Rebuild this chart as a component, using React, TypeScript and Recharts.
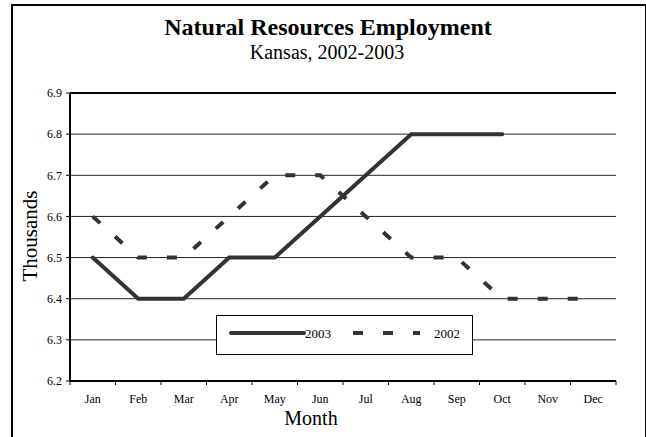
import React from 'react';
import { LineChart, Line, XAxis, YAxis, CartesianGrid, ReferenceLine } from 'recharts';

const months = ['Jan', 'Feb', 'Mar', 'Apr', 'May', 'Jun', 'Jul', 'Aug', 'Sep', 'Oct', 'Nov', 'Dec'];
const values2003: (number | null)[] = [6.5, 6.4, 6.4, 6.5, 6.5, 6.6, 6.7, 6.8, 6.8, 6.8, null, null];
const values2002: number[] = [6.6, 6.5, 6.5, 6.6, 6.7, 6.7, 6.6, 6.5, 6.5, 6.4, 6.4, 6.4];
const yTicks = [6.2, 6.3, 6.4, 6.5, 6.6, 6.7, 6.8, 6.9];
const boundaryTicks = [0, 1, 2, 3, 4, 5, 6, 7, 8, 9, 10, 11, 12];

const data = months.map((m, i) => ({ month: m, idx: i + 0.5, y2003: values2003[i], y2002: values2002[i] }));

const FONT = '"Liberation Serif", "Times New Roman", serif';
const LINE = '#333333';

const LegendBox = () => (
  <svg width={257} height={40} style={{ display: 'block' }}>
    <rect x={0.5} y={0.5} width={256} height={39} fill="#fff" stroke="#000" strokeWidth={1} />
    <line x1={15} y1={18} x2={88} y2={18} stroke={LINE} strokeWidth={4} strokeLinecap="round" />
    <text x={89} y={23} fontFamily={FONT} fontSize={13} fill="#000">2003</text>
    <line x1={137} y1={18} x2={204} y2={18} stroke={LINE} strokeWidth={4} strokeDasharray="10 20" />
    <text x={218} y={23} fontFamily={FONT} fontSize={13} fill="#000">2002</text>
  </svg>
);

export default function App() {
  return (
    <div style={{ position: 'absolute', left: 0, top: 0, width: 646, height: 437, overflow: 'hidden', background: '#fff' }}>
      <div style={{ position: 'absolute', left: 11, top: 4, width: 632, height: 450, border: '2px solid #000' }} />
      <div style={{ position: 'absolute', left: 0, top: 12, width: 656, textAlign: 'center', fontFamily: FONT, fontWeight: 'bold', fontSize: 24, lineHeight: '30px' }}>
        Natural Resources Employment
      </div>
      <div style={{ position: 'absolute', left: 0, top: 40, width: 654, textAlign: 'center', fontFamily: FONT, fontSize: 20, lineHeight: '24px' }}>
        Kansas, 2002-2003
      </div>
      <div style={{ position: 'absolute', left: 0, top: 0 }}>
        <LineChart width={646} height={437} data={data} margin={{ top: 93, right: 30, bottom: 26, left: 30 }}>
          <CartesianGrid xAxisId="m" yAxisId="l" vertical={false} stroke="#222" strokeWidth={1} />
          <XAxis xAxisId="m" dataKey="month" height={26} padding={{ left: 22.75, right: 22.75 }} axisLine={false} tickLine={false} tickSize={0} tick={{ fontFamily: FONT, fontSize: 12, fill: '#000' }} tickMargin={9} />
          <XAxis xAxisId="a" dataKey="idx" type="number" domain={[0, 12]} allowDataOverflow ticks={boundaryTicks} interval={0} tickFormatter={() => ''} height={4} axisLine={{ stroke: '#000', strokeWidth: 2 }} tickLine={{ stroke: '#000', strokeWidth: 1 }} tickSize={4} tickMargin={0} />
          <YAxis yAxisId="l" domain={[6.2, 6.9]} ticks={yTicks} width={40} axisLine={{ stroke: '#000', strokeWidth: 2 }} tickLine={{ stroke: '#000' }} tickSize={4} tickMargin={4} tick={{ fontFamily: FONT, fontSize: 12, fill: '#000' }} tickFormatter={(v: number) => v.toFixed(1)} />
          <YAxis yAxisId="r" orientation="right" domain={[6.2, 6.9]} width={0} axisLine={{ stroke: '#000', strokeWidth: 3 }} tick={false} tickLine={false} />
          <ReferenceLine yAxisId="l" xAxisId="m" y={6.9} stroke="#000" strokeWidth={2} />
          <Line yAxisId="l" xAxisId="m" dataKey="y2003" name="2003" stroke={LINE} strokeWidth={4} dot={false} isAnimationActive={false} strokeLinecap="round" />
          <Line yAxisId="l" xAxisId="m" dataKey="y2002" name="2002" stroke={LINE} strokeWidth={4} strokeDasharray="10 20" dot={false} isAnimationActive={false} />
        </LineChart>
      </div>
      <div style={{ position: 'absolute', left: 216, top: 315 }}>
        <LegendBox />
      </div>
      <div style={{ position: 'absolute', left: 30, top: 236, width: 0, height: 0 }}>
        <div style={{ position: 'absolute', left: 0, top: 0, transform: 'translate(-50%, -50%) rotate(-90deg)', fontFamily: FONT, fontSize: 21, lineHeight: '24px', whiteSpace: 'nowrap' }}>
          Thousands
        </div>
      </div>
      <div style={{ position: 'absolute', left: 261, top: 406, width: 100, textAlign: 'center', fontFamily: FONT, fontSize: 20, lineHeight: '24px' }}>
        Month
      </div>
    </div>
  );
}
